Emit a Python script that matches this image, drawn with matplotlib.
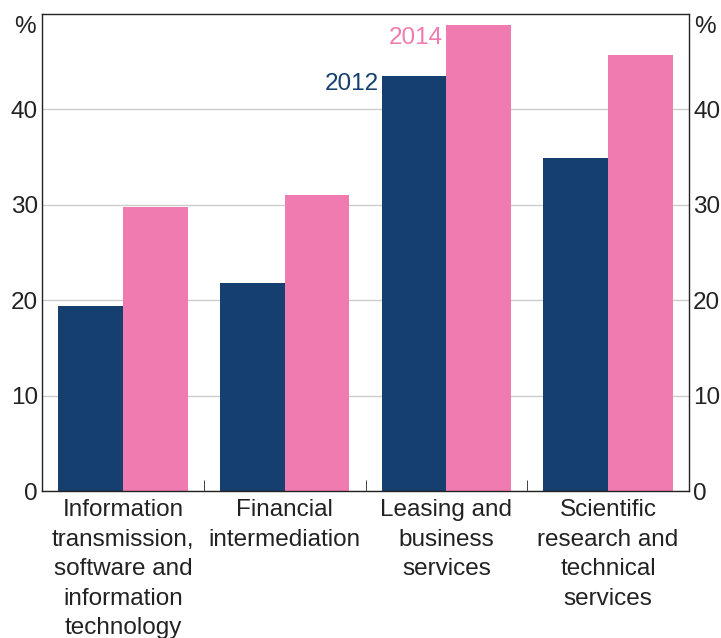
import matplotlib.pyplot as plt
import numpy as np

plt.rcParams['font.family'] = ['Liberation Sans', 'DejaVu Sans']

categories = ['Information\ntransmission,\nsoftware and\ninformation\ntechnology',
              'Financial\nintermediation',
              'Leasing and\nbusiness\nservices',
              'Scientific\nresearch and\ntechnical\nservices']
v2012 = [19.4, 21.8, 43.5, 34.9]
v2014 = [29.8, 31.0, 48.8, 45.7]

navy = '#143f6e'
pink = '#f07bb0'
fs = 17.5

fig = plt.figure(figsize=(7.21, 6.38), dpi=100)
ax = fig.add_axes([0.0583, 0.2304, 0.8973, 0.7476])

x = np.arange(len(categories))
w = 0.4
ax.bar(x - w/2, v2012, width=w, color=navy, zorder=2)
ax.bar(x + w/2, v2014, width=w, color=pink, zorder=2)

ax.set_xlim(-0.5, 3.5)
ax.set_ylim(0, 50)
ax.set_yticks([0, 10, 20, 30, 40])
ax.yaxis.grid(True, color='#cccccc', lw=1, zorder=0)
ax.tick_params(axis='y', length=0, labelsize=fs, pad=3, labelcolor='#222222',
               labelright=True, right=False)

ax.set_xticks(x)
ax.set_xticklabels(categories, fontsize=fs, color='#222222', linespacing=1.44)
ax.tick_params(axis='x', length=0, pad=6)
# boundary ticks between categories
ax.set_xticks([0.5, 1.5, 2.5], minor=True)
ax.tick_params(axis='x', which='minor', direction='in', length=8, color='#222222')

for s in ax.spines.values():
    s.set_color('#222222')
    s.set_linewidth(1)

ax.text(-0.009, 48.6, '%', transform=ax.get_yaxis_transform(), ha='right', va='center',
        fontsize=fs, color='#222222')
ax.text(1.008, 48.6, '%', transform=ax.get_yaxis_transform(), ha='left', va='center',
        fontsize=fs, color='#222222')

ax.text(2 - w - 0.02, v2012[2] - 0.8, '2012', ha='right', va='center', fontsize=fs, color=navy)
ax.text(2 - 0.02, v2014[2] - 1.3, '2014', ha='right', va='center', fontsize=fs, color=pink)

fig.savefig('out.png', dpi=100)
